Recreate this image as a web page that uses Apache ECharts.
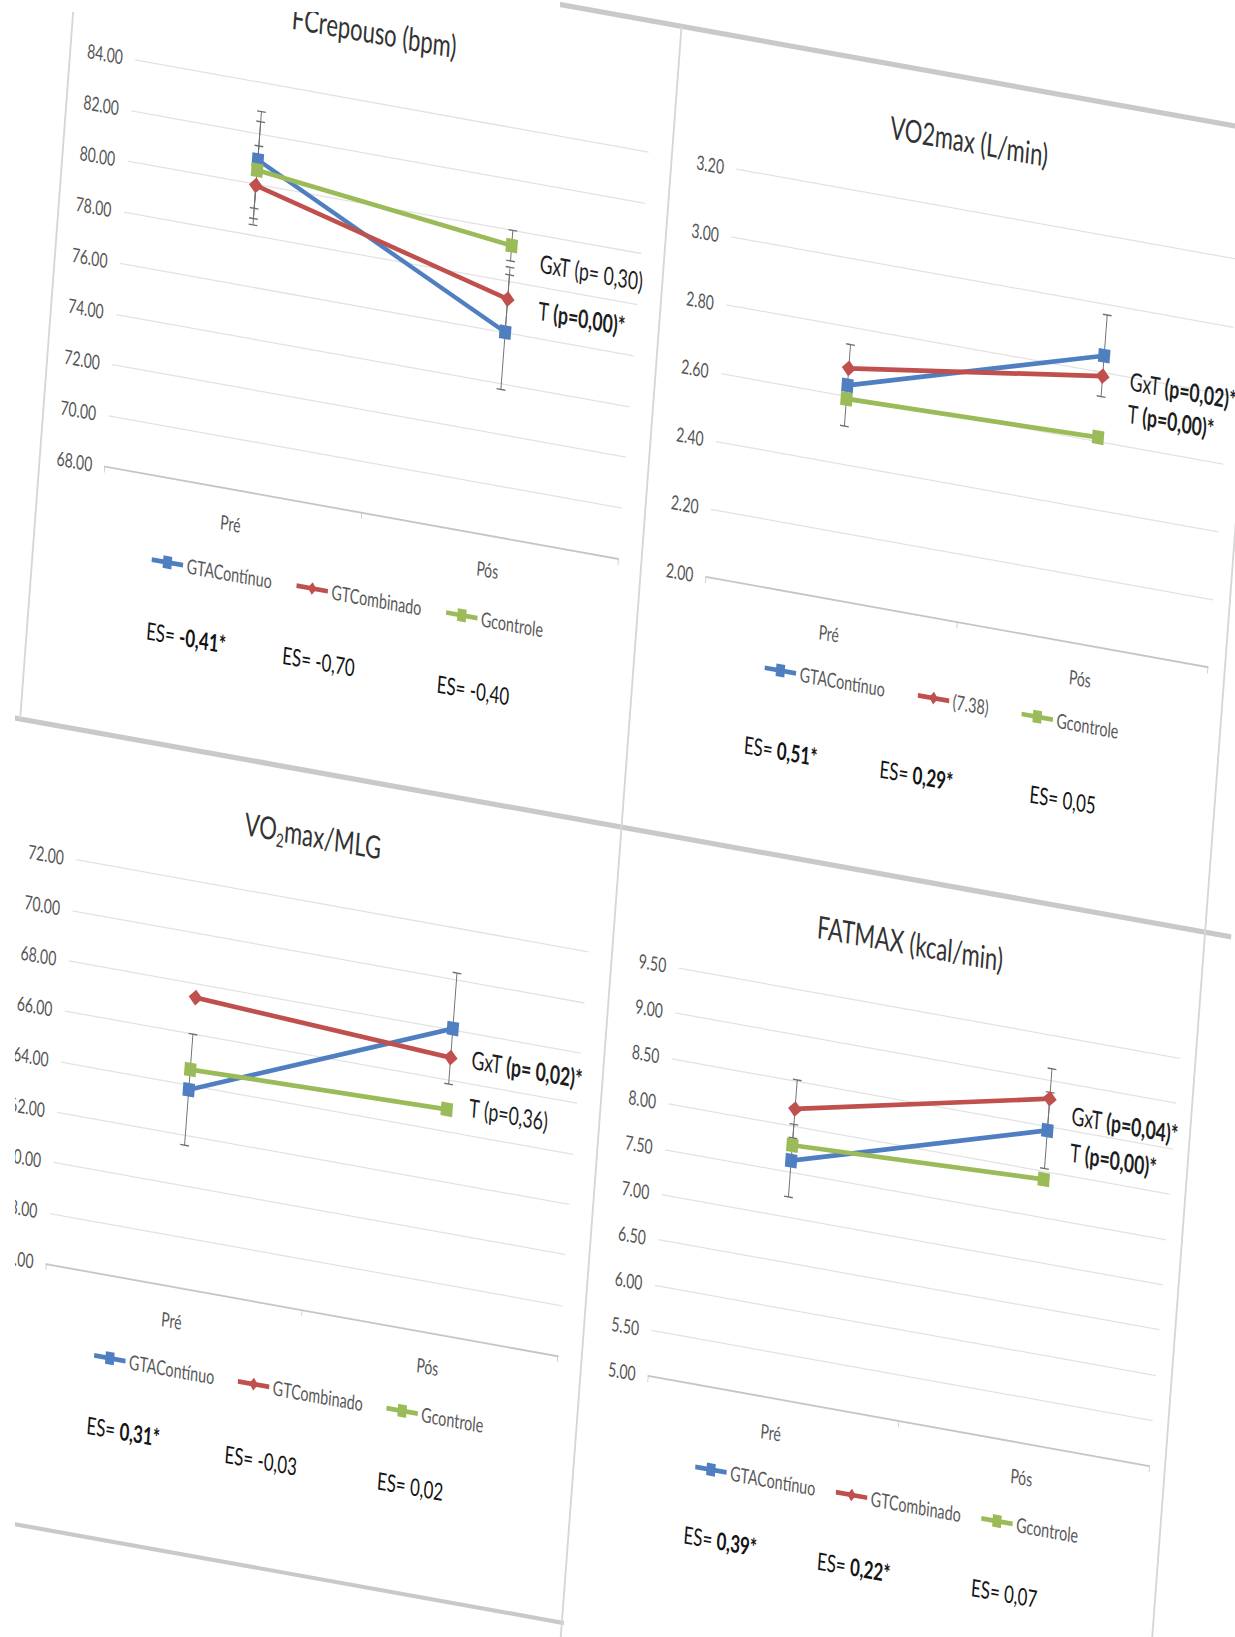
<!DOCTYPE html>
<html><head><meta charset="utf-8">
<script src="https://cdn.jsdelivr.net/npm/echarts@6/dist/echarts.min.js"></script>
<style>
html,body{margin:0;padding:0;background:#fff;overflow:hidden;width:1235px;height:1637px;}
#chart{position:absolute;left:0;top:0;width:1800px;height:1700px;transform-origin:0 0;
transform:matrix(0.7308,0.13154,-0.0783,1.044,7.83,-104.4);}
#maskL{position:absolute;left:0;top:0;width:15px;height:1637px;background:#fff;}
#maskT{position:absolute;left:0;top:0;width:560px;height:12px;background:#fff;}
</style></head><body><div id="chart"></div><div id="maskL"></div><div id="maskT"></div>
<script>
// ---------- data ----------
const categories = ['Pré', 'Pós'];
const groupNames = ['GTAContínuo', 'GTCombinado', 'Gcontrole'];
const groupNamesVO2 = ['GTAContínuo', '(7.38)', 'Gcontrole'];

const fcTicks = [68, 84, 2];
const fcContinuo = [80.95, 76.0];
const fcCombinado = [79.95, 77.3];
const fcControle = [80.55, 79.4];
const fcContinuoSD = [1.9, 2.25];
const fcCombinadoSD = [1.55, 1.25];
const fcControleSD = [1.9, 0.6];
const fcES = ['-0,41*', '-0,70', '-0,40'];
const fcStats = ['(p= 0,30)', '(p=0,00)*'];

const vo2Ticks = [2.0, 3.2, 0.2];
const vo2Continuo = [2.63, 2.85];
const vo2Combinado = [2.68, 2.79];
const vo2Controle = [2.59, 2.61];
const vo2ContinuoSD = [0.12, 0.12];
const vo2CombinadoSD = [0, 0];
const vo2ControleSD = [0, 0];
const vo2ES = ['0,51*', '0,29*', '0,05'];
const vo2Stats = ['(p=0,02)*', '(p=0,00)*'];

const mlgTicks = [56, 72, 2];
const mlgContinuo = [63.8, 68.05];
const mlgCombinado = [67.45, 66.9];
const mlgControle = [64.6, 64.85];
const mlgContinuoSD = [2.2, 2.2];
const mlgCombinadoSD = [0, 0];
const mlgControleSD = [0, 0];
const mlgES = ['0,31*', '-0,03', '0,02'];
const mlgStats = ['(p= 0,02)*', '(p=0,36)'];

const fatTicks = [5.0, 9.5, 0.5];
const fatContinuo = [7.62, 8.45];
const fatCombinado = [8.19, 8.8];
const fatControle = [7.79, 7.91];
const fatContinuoSD = [0.4, 0.42];
const fatCombinadoSD = [0.32, 0.33];
const fatControleSD = [0, 0];
const fatES = ['0,39*', '0,22*', '0,07'];
const fatStats = ['(p=0,04)*', '(p=0,00)*'];

const titles = ['FCrepouso (bpm)', 'VO2max (L/min)', '{a|VO}{s|2}{a|max/MLG}', 'FATMAX (kcal/min)'];

// ---------- layout (unskewed frame) ----------
const KX = 0.7;
const X = v => v / KX;
const FONT = 'Lato, "Open Sans", sans-serif';
const COLORS = ['#4F7FC0', '#C0504D', '#9BBB59'];
const SYMBOLS = ['rect', 'diamond', 'rect'];
const SYMSIZE = [[16, 13], [19, 15], [16, 13]];

const layout = [
  {grid: [132, 133, 492, 390], title: [356, 68], legend: [178, 598, 22], gxt: [529, 257], t: [531, 302], es: [[221, 670], [348, 670], [496, 671]]},
  {grid: [708, 134.5, 481, 390.5], title: [926, 70], legend: [765, 596, 30], gxt: [1095, 268], t: [1095, 299], es: [[791, 676], [921, 676], [1061, 674]]},
  {grid: [133, 899.6, 490.5, 386.7], title: [355, 834], legend: [180, 1360, 21], gxt: [521, 1021], t: [522, 1067], es: [[218, 1431], [350, 1435], [493, 1434]]},
  {grid: [710, 899, 480, 391], title: [927, 838], legend: [756, 1363, 18], gxt: [1092, 972], t: [1093, 1007], es: [[790, 1433], [918, 1435], [1062, 1434]]}
];

const panelData = [
  {ticks: fcTicks, names: groupNames, values: [fcContinuo, fcCombinado, fcControle], sds: [fcContinuoSD, fcCombinadoSD, fcControleSD], es: fcES, stats: fcStats},
  {ticks: vo2Ticks, names: groupNamesVO2, values: [vo2Continuo, vo2Combinado, vo2Controle], sds: [vo2ContinuoSD, vo2CombinadoSD, vo2ControleSD], es: vo2ES, stats: vo2Stats},
  {ticks: mlgTicks, names: groupNames, values: [mlgContinuo, mlgCombinado, mlgControle], sds: [mlgContinuoSD, mlgCombinadoSD, mlgControleSD], es: mlgES, stats: mlgStats},
  {ticks: fatTicks, names: groupNames, values: [fatContinuo, fatCombinado, fatControle], sds: [fatContinuoSD, fatCombinadoSD, fatControleSD], es: fatES, stats: fatStats}
];

function errSeries(i, values, sds) {
  return {
    type: 'custom', xAxisIndex: i, yAxisIndex: i, silent: true, z: 1,
    encode: {x: 0, y: 1},
    data: values.map((v, k) => [k, v, sds[k]]).filter(d => d[2] > 0),
    renderItem: (params, api) => {
      const k = api.value(0), v = api.value(1), e = api.value(2);
      const t = api.coord([k, v + e]), b = api.coord([k, v - e]);
      const hw = 6, st = {stroke: '#6f6f6f', lineWidth: 1.3};
      return {type: 'group', children: [
        {type: 'line', shape: {x1: t[0], y1: t[1], x2: b[0], y2: b[1]}, style: st},
        {type: 'line', shape: {x1: t[0] - hw, y1: t[1], x2: t[0] + hw, y2: t[1]}, style: st},
        {type: 'line', shape: {x1: b[0] - hw, y1: b[1], x2: b[0] + hw, y2: b[1]}, style: st}
      ]};
    }
  };
}

const series = [];
panelData.forEach((p, i) => {
  p.values.forEach((vals, s) => {
    series.push({
      type: 'line', name: p.names[s], xAxisIndex: i, yAxisIndex: i, data: vals,
      symbol: SYMBOLS[s], symbolSize: SYMSIZE[s], z: 3,
      lineStyle: {width: 4.5, color: COLORS[s]}, itemStyle: {color: COLORS[s]}
    });
    series.push(errSeries(i, vals, p.sds[s]));
  });
});

const esRich = {
  n: {fontSize: 23, fontFamily: FONT, fill: '#141414'},
  b: {fontSize: 23, fontFamily: FONT, fontWeight: 'bold', fill: '#141414'}
};
const pRich = {
  n: {fontSize: 24, fontFamily: FONT, fill: '#1e1e1e'},
  b: {fontSize: 24, fontFamily: FONT, fontWeight: 'bold', fill: '#1e1e1e'}
};
function tok(str) { return str.endsWith('*') ? `{b|${str}}` : `{n|${str}}`; }

const graphic = [
  {type: 'line', shape: {x1: X(70), y1: 9, x2: X(1230), y2: 9}, style: {stroke: '#c9c9c9', lineWidth: 5}},
  {type: 'line', shape: {x1: X(-40), y1: 776, x2: X(1230), y2: 776}, style: {stroke: '#c9c9c9', lineWidth: 5}},
  {type: 'line', shape: {x1: X(-40), y1: 1538, x2: X(648), y2: 1538}, style: {stroke: '#c9c9c9', lineWidth: 4}},
  {type: 'line', shape: {x1: X(70), y1: 9, x2: X(70), y2: 776}, style: {stroke: '#d6d6d6', lineWidth: 2.5}},
  {type: 'line', shape: {x1: X(646), y1: 9, x2: X(646), y2: 1600}, style: {stroke: '#d6d6d6', lineWidth: 2.5}},
  {type: 'line', shape: {x1: X(1205), y1: 9, x2: X(1205), y2: 1600}, style: {stroke: '#d6d6d6', lineWidth: 2.5}}
];
layout.forEach((l, i) => {
  const p = panelData[i];
  l.es.forEach((pos, k) => {
    graphic.push({type: 'text', x: X(pos[0]), y: pos[1], z: 10,
      style: {text: '{n|ES= }' + tok(p.es[k]), rich: esRich, fontSize: 23, fontFamily: FONT, align: 'center', verticalAlign: 'middle'}});
  });
  graphic.push({type: 'text', x: X(l.gxt[0]), y: l.gxt[1], z: 10,
    style: {text: '{n|GxT }' + tok(p.stats[0]), rich: pRich, fontSize: 24, fontFamily: FONT, align: 'left', verticalAlign: 'middle'}});
  graphic.push({type: 'text', x: X(l.t[0]), y: l.t[1], z: 10,
    style: {text: '{n|T }' + tok(p.stats[1]), rich: pRich, fontSize: 24, fontFamily: FONT, align: 'left', verticalAlign: 'middle'}});
});

const option = {
  animation: false,
  backgroundColor: '#ffffff',
  title: layout.map((l, i) => ({
    text: titles[i], left: X(l.title[0]), top: l.title[1] - 17, textAlign: 'center', padding: 0,
    textStyle: {fontSize: 30, fontWeight: 'normal', color: '#333333', fontFamily: FONT,
      rich: {a: {fontSize: 30, color: '#333333', fontFamily: FONT, lineHeight: 38},
             s: {fontSize: 18, color: '#333333', fontFamily: FONT, lineHeight: 38, verticalAlign: 'bottom'}}}
  })),
  grid: layout.map(l => ({left: X(l.grid[0]), top: l.grid[1], width: X(l.grid[2]), height: l.grid[3]})),
  xAxis: layout.map((l, i) => ({
    type: 'category', gridIndex: i, data: categories, boundaryGap: true,
    axisLine: {lineStyle: {color: '#c4c4c4', width: 1.5}},
    axisTick: {show: true, length: 6, lineStyle: {color: '#c4c4c4'}},
    axisLabel: {color: '#595959', fontSize: 19, fontFamily: FONT, margin: 23},
    splitLine: {show: false}
  })),
  yAxis: panelData.map((p, i) => ({
    type: 'value', gridIndex: i, min: p.ticks[0], max: p.ticks[1], interval: p.ticks[2],
    axisLine: {show: false}, axisTick: {show: false},
    axisLabel: {color: '#555555', fontSize: 19, fontFamily: FONT, margin: 17, formatter: v => v.toFixed(2)},
    splitLine: {lineStyle: {color: '#e2e2e2', width: 1.2}}
  })),
  legend: layout.map((l, i) => ({
    left: X(l.legend[0]), top: l.legend[1] - 10, itemGap: X(l.legend[2]), itemWidth: X(30), itemHeight: 15,
    selectedMode: false, data: panelData[i].names,
    lineStyle: {width: 4.5},
    textStyle: {color: '#595959', fontSize: 19.5, fontFamily: FONT}
  })),
  series,
  graphic
};

const chart = echarts.init(document.getElementById('chart'), null, {renderer: 'svg', width: 1800, height: 1700});
chart.setOption(option);
</script></body></html>
